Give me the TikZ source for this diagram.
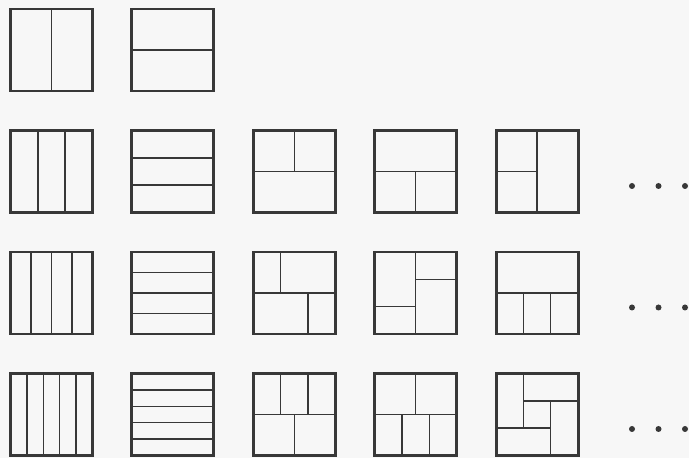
\documentclass[tikz,border=0pt]{standalone}
\usetikzlibrary{calc}

\begin{document}
\begin{tikzpicture}[
      x=0.025cm, y=0.025cm, % 1 Einheit = 1 Bildpunkt
      ink/.style={draw=black!78}, % Strichfarbe
      frame/.style={ink, line width=2.1pt, line join=miter}, % Rand der Quadrate
      cut/.style={ink, line width=1pt}, % Teilungslinien
      tile/.style 2 args={shift={(10.5+#1*121.4, 367-#2*121.5)}, scale=82}, % Spalte/Zeile
    ]

    % Hintergrund und Rahmen des Bildes
    \fill[black!3] (0,0) rectangle (689,458);

    % Streifen: n senkrechte bzw. waagrechte Teile
    \foreach \r/\n in {0/2, 1/3, 2/4, 3/5} {
      \pgfmathtruncatemacro\m{\n-1}
      \begin{scope}[tile={0}{\r}]
        \foreach \k in {1,...,\m}
        \draw[cut] ({\k/\n},0) -- ({\k/\n},1);
        \draw[frame] (0,0) rectangle (1,1);
      \end{scope}
      \begin{scope}[tile={1}{\r}]
        \foreach \k in {1,...,\m}
        \draw[cut] (0,{\k/\n}) -- (1,{\k/\n});
        \draw[frame] (0,0) rectangle (1,1);
      \end{scope}
    }

    % Zeile 2: drei Teile
    \begin{scope}[tile={2}{1}]
      \draw[cut] (0,0.5) -- (1,0.5) (0.5,0.5) -- (0.5,1);
      \draw[frame] (0,0) rectangle (1,1);
    \end{scope}
    \begin{scope}[tile={3}{1}]
      \draw[cut] (0,0.5) -- (1,0.5) (0.5,0) -- (0.5,0.5);
      \draw[frame] (0,0) rectangle (1,1);
    \end{scope}
    \begin{scope}[tile={4}{1}]
      \draw[cut] (0.5,0) -- (0.5,1) (0,0.5) -- (0.5,0.5);
      \draw[frame] (0,0) rectangle (1,1);
    \end{scope}

    % Zeile 3: vier Teile
    \begin{scope}[tile={2}{2}]
      \draw[cut] (0,0.5) -- (1,0.5) (1/3,0.5) -- (1/3,1) (2/3,0) -- (2/3,0.5);
      \draw[frame] (0,0) rectangle (1,1);
    \end{scope}
    \begin{scope}[tile={3}{2}]
      \draw[cut] (0.5,0) -- (0.5,1) (0.5,2/3) -- (1,2/3) (0,1/3) -- (0.5,1/3);
      \draw[frame] (0,0) rectangle (1,1);
    \end{scope}
    \begin{scope}[tile={4}{2}]
      \draw[cut] (0,0.5) -- (1,0.5) (1/3,0) -- (1/3,0.5) (2/3,0) -- (2/3,0.5);
      \draw[frame] (0,0) rectangle (1,1);
    \end{scope}

    % Zeile 4: fünf Teile
    \begin{scope}[tile={2}{3}]
      \draw[cut] (0,0.5) -- (1,0.5) (1/3,0.5) -- (1/3,1) (2/3,0.5) -- (2/3,1)
      (0.5,0) -- (0.5,0.5);
      \draw[frame] (0,0) rectangle (1,1);
    \end{scope}
    \begin{scope}[tile={3}{3}]
      \draw[cut] (0,0.5) -- (1,0.5) (0.5,0.5) -- (0.5,1) (1/3,0) -- (1/3,0.5)
      (2/3,0) -- (2/3,0.5);
      \draw[frame] (0,0) rectangle (1,1);
    \end{scope}
    \begin{scope}[tile={4}{3}]
      % Windrad
      \draw[cut] (1/3,1) -- (1/3,1/3) (1/3,2/3) -- (1,2/3) (2/3,2/3) -- (2/3,0)
      (0,1/3) -- (2/3,1/3);
      \draw[frame] (0,0) rectangle (1,1);
    \end{scope}

    % Punkte am Ende der Zeilen
    \foreach \y in {272, 150.5, 29}
    \foreach \x in {632, 658.5, 685}
    \fill[black!78] (\x,\y) circle[radius=3];
  \end{tikzpicture}
\end{document}
